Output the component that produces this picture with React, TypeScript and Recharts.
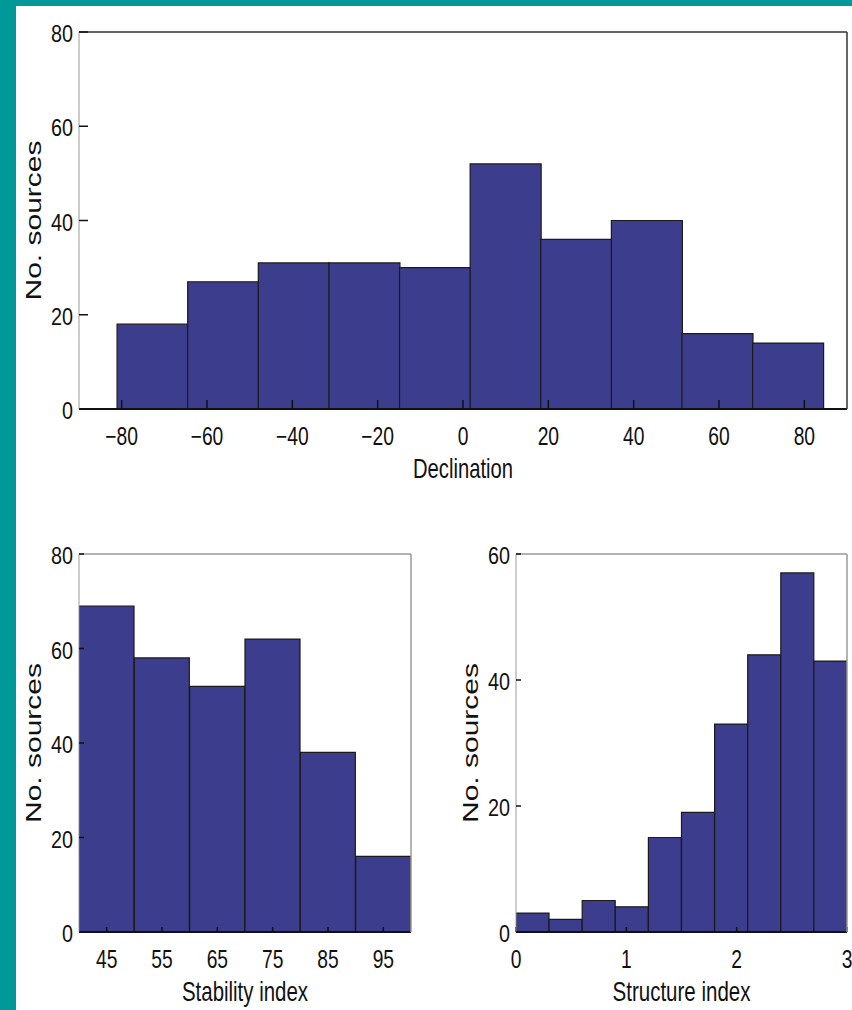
import { BarChart, Bar, XAxis, YAxis } from 'recharts';

const TEAL = '#009999';
const FILL = '#3d3d8e';
const INK = '#111';
const FONT = '"Liberation Sans", Arial, Helvetica, sans-serif';

// Declination histogram: 10 bins ~16.55 deg wide
const declinationCenters = [-72.8, -56.25, -39.7, -23.15, -6.6, 9.95, 26.5, 43.05, 59.6, 76.15];
const declinationCounts = [18, 27, 31, 31, 30, 52, 36, 40, 16, 14];
const declinationTicks = [-80, -60, -40, -20, 0, 20, 40, 60, 80];

// Stability index histogram
const stabilityCenters = [45, 55, 65, 75, 85, 95];
const stabilityCounts = [69, 58, 52, 62, 38, 16];
const stabilityTicks = [45, 55, 65, 75, 85, 95];

// Structure index histogram
const structureCenters = [0.15, 0.45, 0.75, 1.05, 1.35, 1.65, 1.95, 2.25, 2.55, 2.85];
const structureCounts = [3, 2, 5, 4, 15, 19, 33, 44, 57, 43];
const structureTicks = [0, 1, 2, 3];

const countTicks80 = [0, 20, 40, 60, 80];
const countTicks60 = [0, 20, 40, 60];

const RIGHT_W = 5;
const TOP_H = 2;

interface HistProps {
  left: number;
  top: number;
  width: number;
  height: number;
  yAxisWidth: number;
  xAxisHeight: number;
  marginTop: number;
  centers: number[];
  counts: number[];
  xDomain: [number, number];
  xTicks: number[];
  yDomain: [number, number];
  yTicks: number[];
  xLabel: string;
  xLabelLength: number;
  tickLen: number;
  frameColor: string;
  topColor: string;
  rightColor: string;
}

const fmt = (v: number) => (v < 0 ? `\u2212${-v}` : `${v}`);

function Histogram(p: HistProps) {
  const data = p.centers.map((c, i) => ({ x: c, count: p.counts[i] }));
  const plotW = p.width - p.yAxisWidth - RIGHT_W;
  const plotH = p.height - p.marginTop - TOP_H - p.xAxisHeight;
  const axisY = p.height - p.xAxisHeight;
  const plotMidY = p.marginTop + TOP_H + plotH / 2;

  return (
    <div style={{ position: 'absolute', left: p.left, top: p.top }}>
      <BarChart
        width={p.width}
        height={p.height}
        data={data}
        margin={{ top: p.marginTop, right: 0, bottom: 0, left: 0 }}
        barCategoryGap={0}
        barGap={0}
      >
        <XAxis
          dataKey="x"
          type="number"
          domain={p.xDomain}
          ticks={p.xTicks}
          allowDataOverflow
          height={p.xAxisHeight}
          axisLine={{ stroke: INK, strokeWidth: 2 }}
          tickLine={{ stroke: INK, strokeWidth: 1.5 }}
          tickSize={-p.tickLen}
          tickMargin={p.tickLen + 36}
          tick={(t: any) => (
            <text
              transform={`translate(${t.x},${t.y}) scale(0.77,1)`}
              textAnchor="middle"
              fontSize={25}
              fontFamily={FONT}
              fill={INK}
            >
              {fmt(t.payload.value)}
            </text>
          )}
          label={() => (
            <text
              x={p.yAxisWidth + plotW / 2}
              y={axisY + 69}
              textAnchor="middle"
              fontSize={28}
              fontFamily={FONT}
              fill={INK}
              textLength={p.xLabelLength}
              lengthAdjust="spacingAndGlyphs"
            >
              {p.xLabel}
            </text>
          )}
        />
        <XAxis
          xAxisId="top"
          orientation="top"
          type="number"
          domain={p.xDomain}
          ticks={p.xTicks}
          allowDataOverflow
          height={TOP_H}
          axisLine={{ stroke: p.topColor, strokeWidth: 1.5 }}
          tickLine={{ stroke: p.topColor, strokeWidth: 1.5 }}
          tickSize={-p.tickLen}
          tick={false}
        />
        <YAxis
          type="number"
          domain={p.yDomain}
          ticks={p.yTicks}
          width={p.yAxisWidth}
          axisLine={{ stroke: p.frameColor, strokeWidth: 1 }}
          tickLine={{ stroke: INK, strokeWidth: 1.5 }}
          tickSize={-p.tickLen}
          tickMargin={p.tickLen + 6}
          tick={(t: any) => (
            <text
              transform={`translate(${t.x},${t.y + 10}) scale(0.86,1)`}
              textAnchor="end"
              fontSize={23}
              fontFamily={FONT}
              fill={INK}
            >
              {t.payload.value}
            </text>
          )}
          label={() => (
            <text
              transform={`translate(${p.yAxisWidth - 38},${plotMidY}) rotate(-90)`}
              textAnchor="middle"
              fontSize={22}
              fontFamily={FONT}
              fill={INK}
              textLength={160}
              lengthAdjust="spacingAndGlyphs"
            >
              No. sources
            </text>
          )}
        />
        <YAxis
          yAxisId="right"
          orientation="right"
          type="number"
          domain={p.yDomain}
          ticks={p.yTicks}
          width={RIGHT_W}
          axisLine={{ stroke: p.rightColor, strokeWidth: 1.5 }}
          tickLine={{ stroke: p.rightColor, strokeWidth: 1.5 }}
          tickSize={-p.tickLen}
          tick={false}
        />
        <Bar
          dataKey="count"
          fill={FILL}
          stroke="#1a1a1a"
          strokeWidth={1.2}
          isAnimationActive={false}
        />
      </BarChart>
    </div>
  );
}

export default function App() {
  return (
    <div
      style={{
        position: 'absolute',
        left: 0,
        top: 0,
        width: 852,
        height: 1010,
        background: TEAL,
        overflow: 'hidden',
      }}
    >
      <div
        style={{
          position: 'absolute',
          left: 16,
          top: 6,
          right: 0,
          bottom: 0,
          background: '#fff',
        }}
      />
      <Histogram
        left={0}
        top={0}
        width={852}
        height={500}
        yAxisWidth={79}
        xAxisHeight={91}
        marginTop={30}
        centers={declinationCenters}
        counts={declinationCounts}
        xDomain={[-90, 90]}
        xTicks={declinationTicks}
        yDomain={[0, 80]}
        yTicks={countTicks80}
        xLabel="Declination"
        xLabelLength={100}
        tickLen={9}
        frameColor="#9a9a9a"
        topColor="#333"
        rightColor="#333"
      />
      <Histogram
        left={0}
        top={520}
        width={416}
        height={490}
        yAxisWidth={79}
        xAxisHeight={78}
        marginTop={32}
        centers={stabilityCenters}
        counts={stabilityCounts}
        xDomain={[40, 100]}
        xTicks={stabilityTicks}
        yDomain={[0, 80]}
        yTicks={countTicks80}
        xLabel="Stability index"
        xLabelLength={126}
        tickLen={5}
        frameColor="#9a9a9a"
        topColor="#9a9a9a"
        rightColor="#9a9a9a"
      />
      <Histogram
        left={440}
        top={520}
        width={412}
        height={490}
        yAxisWidth={76}
        xAxisHeight={78}
        marginTop={32}
        centers={structureCenters}
        counts={structureCounts}
        xDomain={[0, 3]}
        xTicks={structureTicks}
        yDomain={[0, 60]}
        yTicks={countTicks60}
        xLabel="Structure index"
        xLabelLength={138}
        tickLen={5}
        frameColor="#9a9a9a"
        topColor="#9a9a9a"
        rightColor="#9a9a9a"
      />
    </div>
  );
}
